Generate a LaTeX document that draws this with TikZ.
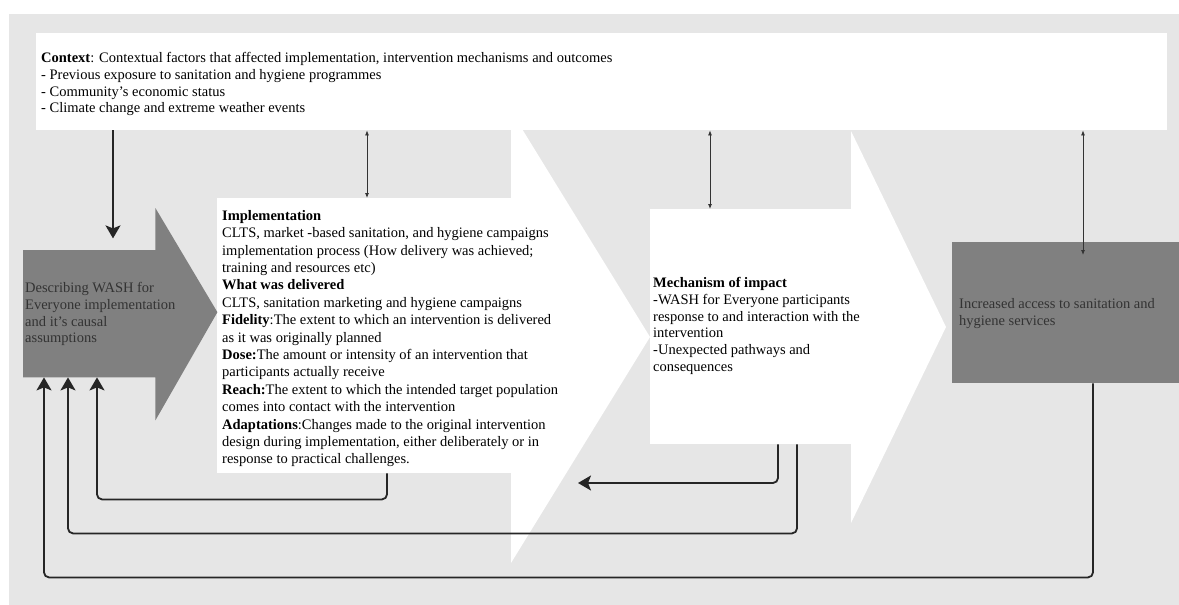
\documentclass[tikz,border=0pt]{standalone}
\usepackage{fontspec}
\setmainfont{Liberation Serif}
\usepackage{xcolor}
\usetikzlibrary{arrows.meta, positioning, calc}
\definecolor{panelgray}{HTML}{E6E6E6}
\definecolor{boxgray}{HTML}{808080}
\definecolor{inkgray}{HTML}{333333}

\begin{document}
\begin{tikzpicture}[x=1pt, y=-1pt, font=\fontsize{14.5}{16.8}\selectfont,
  whitebox/.style={fill=white, inner sep=0pt, anchor=north west},
  darkbox/.style={fill=boxgray, inner sep=0pt, anchor=north west},
  txt/.style={align=left, inner sep=0pt, anchor=north west},
  dtxt/.style={txt, text=inkgray},
  fb/.style={-{Stealth[length=13pt, width=15pt, inset=3pt]}, line width=1.8pt, draw=black!85, rounded corners=5pt},
  link/.style={{Latex[length=5pt, width=4pt]}-{Latex[length=5pt, width=4pt]}, line width=0.8pt, draw=black!80}]

  \useasboundingbox (0,0) rectangle (1179,605);
  \fill[panelgray] (9,14) rectangle (1179,605);

  % big white chevrons behind the boxes
  \fill[white] (511,111) -- (650,337) -- (511,563) -- cycle;
  \fill[white] (851,131) -- (946,327) -- (851,523) -- cycle;

  \node[whitebox, minimum width=1131pt, minimum height=97pt] (ctx) at (36,33) {};
  \node[whitebox, minimum width=294pt, minimum height=275pt] (impl) at (217,198) {};
  \node[whitebox, minimum width=201pt, minimum height=235pt] (mech) at (650,209) {};
  \node[darkbox, minimum width=227pt, minimum height=141pt] (out) at (952,242) {};

  % dark arrow on the left
  \node[inner sep=0pt, anchor=north west, minimum width=132pt, minimum height=127pt] (desc) at (23,250) {};
  \fill[boxgray] (desc.north west) -- (desc.north east) -- ++(0,-42)
    -- ($(desc.east)+(62,-1.5)$) -- ($(desc.south east)+(0,43)$)
    -- (desc.south east) -- (desc.south west) -- cycle;

  \node[txt] (ctxtxt) at ($(ctx.north west)+(5,19)$)
    {\textbf{Context}: Contextual factors that affected implementation, intervention mechanisms and outcomes\\
     - Previous exposure to sanitation and hygiene programmes\\
     - Community’s economic status\\
     - Climate change and extreme weather events};
  \node[txt, font=\fontsize{14.5}{17.4}\selectfont] (impltxt) at ($(impl.north west)+(5,12)$)
    {\textbf{Implementation}\\
     CLTS, market -based sanitation, and hygiene campaigns\\
     implementation process (How delivery was achieved;\\
     training and resources etc)\\
     \textbf{What was delivered}\\
     CLTS, sanitation marketing and hygiene campaigns\\
     \textbf{Fidelity}:The extent to which an intervention is delivered\\
     as it was originally planned\\
     \textbf{Dose:}The amount or intensity of an intervention that\\
     participants actually receive\\
     \textbf{Reach:}The extent to which the intended target population\\
     comes into contact with the intervention\\
     \textbf{Adaptations}:Changes made to the original intervention\\
     design during implementation, either deliberately or in\\
     response to practical challenges.};
  \node[txt] (mechtxt) at ($(mech.north west)+(3,68)$)
    {\textbf{Mechanism of impact}\\
     -WASH for Everyone participants\\
     response to and interaction with the\\
     intervention\\
     -Unexpected pathways and\\
     consequences};
  \node[dtxt] (desctxt) at ($(desc.north west)+(2,32)$)
    {Describing WASH for\\ Everyone implementation\\ and it’s causal\\ assumptions};
  \node[dtxt] (outtxt) at ($(out.north west)+(7,56)$)
    {Increased access to sanitation and\\ hygiene services};

  % context arrows
  \draw[fb] ($(ctx.south west)+(77,0)$) -- ++(0,108);
  \draw[link] ($(impl.north west)+(150,0)$) -- ($(ctx.south west)+(331,0)$);
  \draw[link] ($(mech.north west)+(60,0)$) -- ($(ctx.south west)+(674,0)$);
  \draw[link] ($(out.north west)+(131,13)$) -- ($(ctx.south west)+(1047,0)$);

  % feedback loops
  \coordinate (back) at (578,483);
  \draw[fb] ($(impl.south west)+(170,0)$) -- ++(0,26) -| ($(desc.south west)+(74,0)$);
  \draw[fb] ($(mech.south west)+(128,0)$) |- (back);
  \draw[fb] ($(mech.south west)+(147,0)$) -- ++(0,89) -| ($(desc.south west)+(45,0)$);
  \draw[fb] ($(out.south west)+(141,0)$) -- ++(0,194) -| ($(desc.south west)+(21,0)$);
\end{tikzpicture}
\end{document}
